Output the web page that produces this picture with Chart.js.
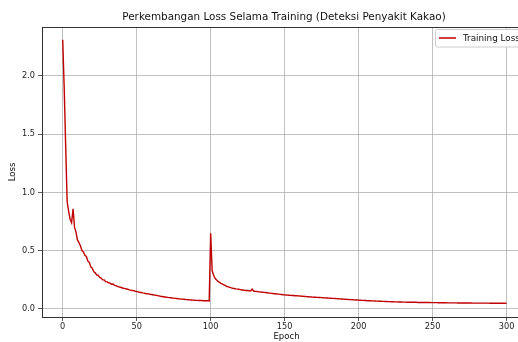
<!DOCTYPE html>
<html>
<head>
<meta charset="utf-8">
<script src="https://cdn.jsdelivr.net/npm/chart.js@4.4.1/dist/chart.umd.min.js"></script>
<style>
  html, body { margin: 0; padding: 0; background: #fff; overflow: hidden; width: 518px; height: 342px; }
  #wrap { position: relative; width: 518px; height: 342px; overflow: hidden; }
  canvas { display: block; }
</style>
</head>
<body>
<div id="wrap"><canvas id="c" width="531" height="342"></canvas></div>
<script>
// ---- Data ----
const chartTitle = "Perkembangan Loss Selama Training (Deteksi Penyakit Kakao)";
const seriesName = "Training Loss";
const xAxisLabel = "Epoch";
const yAxisLabel = "Loss";
const xTicks = [0, 50, 100, 150, 200, 250, 300];
const yTicks = [0.0, 0.5, 1.0, 1.5, 2.0];

// epochs 0..99
const lossPhase1 = [
  2.31, 1.90, 1.40, 0.92, 0.84, 0.77, 0.74, 0.86, 0.70, 0.66,
  0.59, 0.57, 0.54, 0.50, 0.49, 0.46, 0.45, 0.41, 0.40, 0.36,
  0.35, 0.32, 0.31, 0.29, 0.29, 0.27, 0.265, 0.25, 0.25, 0.235,
  0.232, 0.225, 0.222, 0.212, 0.214, 0.203, 0.200, 0.194, 0.190, 0.186,
  0.182, 0.178, 0.177, 0.171, 0.169, 0.164, 0.162, 0.158, 0.157, 0.152,
  0.150, 0.147, 0.143, 0.141, 0.138, 0.136, 0.133, 0.131, 0.129, 0.126,
  0.124, 0.122, 0.119, 0.118, 0.115, 0.112, 0.109, 0.107, 0.105, 0.103,
  0.101, 0.099, 0.097, 0.096, 0.094, 0.093, 0.091, 0.090, 0.088, 0.087,
  0.085, 0.084, 0.083, 0.081, 0.080, 0.079, 0.078, 0.077, 0.076, 0.075,
  0.074, 0.074, 0.073, 0.072, 0.072, 0.071, 0.071, 0.070, 0.070, 0.069
];
// epochs 100..300
const lossPhase2 = [
  0.65, 0.33, 0.29, 0.262, 0.248, 0.236, 0.228, 0.219, 0.213, 0.206,
  0.200, 0.193, 0.190, 0.186, 0.181, 0.178, 0.176, 0.172, 0.170, 0.169,
  0.166, 0.163, 0.163, 0.160, 0.158, 0.158, 0.156, 0.155, 0.171, 0.154,
  0.152, 0.151, 0.148, 0.147, 0.145, 0.144, 0.142, 0.141, 0.139, 0.137,
  0.136, 0.134, 0.133, 0.131, 0.130, 0.128, 0.127, 0.125, 0.124, 0.122,
  0.121, 0.120, 0.119, 0.118, 0.117, 0.116, 0.115, 0.114, 0.113, 0.112,
  0.111, 0.110, 0.109, 0.108, 0.107, 0.106, 0.105, 0.104, 0.103, 0.102,
  0.101, 0.100, 0.099, 0.098, 0.098, 0.097, 0.096, 0.095, 0.094, 0.094,
  0.093, 0.092, 0.091, 0.091, 0.090, 0.089, 0.088, 0.087, 0.086, 0.085,
  0.084, 0.083, 0.082, 0.081, 0.080, 0.080, 0.079, 0.078, 0.077, 0.077,
  0.076, 0.075, 0.074, 0.074, 0.073, 0.072, 0.071, 0.071, 0.070, 0.069,
  0.069, 0.068, 0.067, 0.067, 0.066, 0.066, 0.065, 0.065, 0.064, 0.064,
  0.063, 0.063, 0.062, 0.062, 0.061, 0.061, 0.061, 0.060, 0.060, 0.060,
  0.059, 0.059, 0.059, 0.058, 0.058, 0.058, 0.057, 0.057, 0.057, 0.057,
  0.056, 0.056, 0.056, 0.056, 0.055, 0.055, 0.055, 0.055, 0.055, 0.054,
  0.054, 0.054, 0.054, 0.054, 0.053, 0.053, 0.053, 0.053, 0.053, 0.053,
  0.052, 0.052, 0.052, 0.052, 0.052, 0.052, 0.052, 0.051, 0.051, 0.051,
  0.051, 0.051, 0.051, 0.051, 0.051, 0.051, 0.051, 0.050, 0.050, 0.050,
  0.050, 0.050, 0.050, 0.050, 0.050, 0.050, 0.050, 0.050, 0.050, 0.049,
  0.049, 0.049, 0.049, 0.049, 0.049, 0.049, 0.049, 0.049, 0.049, 0.049,
  0.049
];

const lossValues = lossPhase1.concat(lossPhase2);
const points = lossValues.map((v, i) => ({ x: i, y: v }));

const lineColor = '#c00000';
const FONT = "'DejaVu Sans', sans-serif";

const framePlugin = {
  id: 'frame',
  afterDraw(chart) {
    const { ctx, chartArea: a } = chart;
    ctx.save();
    // top & right spines
    ctx.strokeStyle = '#333';
    ctx.lineWidth = 1;
    ctx.beginPath();
    ctx.moveTo(a.left, a.top + 0.5);
    ctx.lineTo(a.right, a.top + 0.5);
    ctx.moveTo(a.right - 0.5, a.top);
    ctx.lineTo(a.right - 0.5, a.bottom);
    ctx.stroke();
    // title
    ctx.fillStyle = '#111';
    ctx.font = '10.4px ' + FONT;
    ctx.textAlign = 'center';
    ctx.textBaseline = 'middle';
    ctx.fillText(chartTitle, 284, 17);
    // legend inside plot, upper right
    const bx = 435.5, by = 29.5, bw = 100, bh = 17.5;
    ctx.fillStyle = 'rgba(255,255,255,0.85)';
    ctx.strokeStyle = '#cccccc';
    ctx.lineWidth = 1;
    ctx.beginPath();
    if (ctx.roundRect) ctx.roundRect(bx, by, bw, bh, 2); else ctx.rect(bx, by, bw, bh);
    ctx.fill();
    ctx.stroke();
    ctx.strokeStyle = lineColor;
    ctx.lineWidth = 1.5;
    ctx.beginPath();
    ctx.moveTo(439, 38);
    ctx.lineTo(456, 38);
    ctx.stroke();
    ctx.fillStyle = '#111';
    ctx.font = '8.8px ' + FONT;
    ctx.textAlign = 'left';
    ctx.textBaseline = 'middle';
    ctx.fillText(seriesName, 463, 38.5);
    ctx.restore();
  }
};

new Chart(document.getElementById('c'), {
  type: 'line',
  data: {
    datasets: [{
      label: seriesName,
      data: points,
      borderColor: lineColor,
      backgroundColor: lineColor,
      borderWidth: 1.4,
      pointRadius: 0,
      tension: 0,
      fill: false
    }]
  },
  options: {
    responsive: false,
    animation: false,
    layout: { padding: { top: 27, left: 0, right: 0, bottom: 0 } },
    plugins: {
      legend: { display: false },
      title: { display: false },
      tooltip: { enabled: false }
    },
    scales: {
      x: {
        type: 'linear',
        min: -14,
        max: 316.5,
        afterBuildTicks: s => { s.ticks = xTicks.map(v => ({ value: v })); },
        afterFit: s => { s.height = 25; },
        grid: { color: '#b0b0b0', lineWidth: 0.8, tickColor: '#333', tickLength: 4, drawTicks: true },
        border: { display: true, color: '#333', width: 1 },
        ticks: { color: '#222', font: { family: FONT, size: 8.2 }, padding: 1, maxRotation: 0, autoSkip: false,
                 callback: v => String(v) },
        title: { display: true, text: xAxisLabel, color: '#111', font: { family: FONT, size: 8.5 }, padding: { top: 0, bottom: 0 } }
      },
      y: {
        type: 'linear',
        min: -0.069,
        max: 2.42,
        afterBuildTicks: s => { s.ticks = yTicks.map(v => ({ value: v })); },
        afterFit: s => { s.width = 42; },
        grid: { color: '#b0b0b0', lineWidth: 0.8, tickColor: '#333', tickLength: 4, drawTicks: true },
        border: { display: true, color: '#333', width: 1 },
        ticks: { color: '#222', font: { family: FONT, size: 8.2 }, padding: 3, autoSkip: false,
                 callback: v => Number(v).toFixed(1) },
        title: { display: true, text: yAxisLabel, color: '#111', font: { family: FONT, size: 8.5 }, padding: { top: 8, bottom: 0 } }
      }
    }
  },
  plugins: [framePlugin]
});
</script>
</body>
</html>
